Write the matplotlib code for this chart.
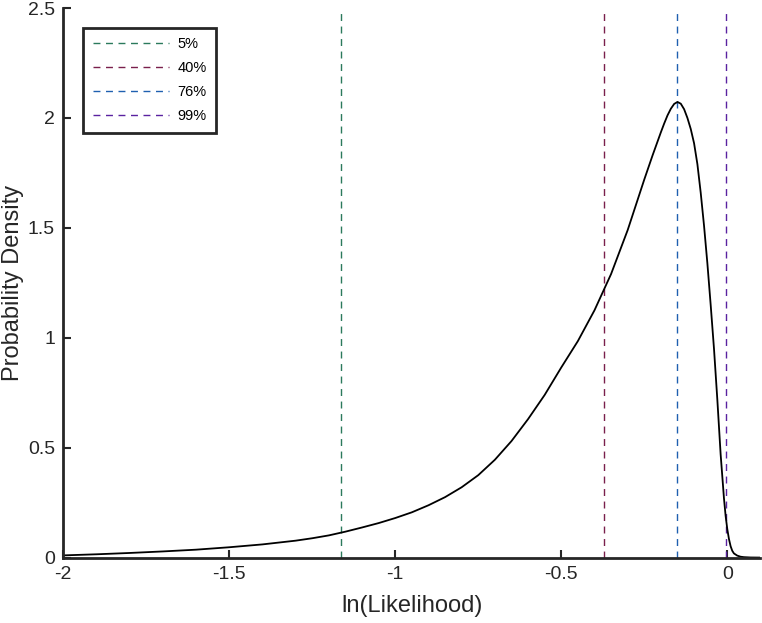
import numpy as np
import matplotlib
matplotlib.use('Agg')
import matplotlib.pyplot as plt

plt.rcParams['font.family'] = ['Liberation Sans', 'DejaVu Sans']

# density curve
lnL = [-2.0, -1.9, -1.8, -1.7, -1.6, -1.5, -1.4, -1.3, -1.25, -1.2,
       -1.15, -1.1, -1.05, -1.0, -0.95, -0.9, -0.85, -0.8, -0.75, -0.7,
       -0.65, -0.6, -0.55, -0.5, -0.45, -0.4, -0.35, -0.3, -0.275, -0.25,
       -0.225, -0.2, -0.19, -0.18, -0.17, -0.16, -0.15, -0.14, -0.13, -0.12,
       -0.11, -0.1, -0.09, -0.08, -0.07, -0.06, -0.05, -0.04, -0.03, -0.02,
       -0.01, -0.005, 0.0, 0.005, 0.01, 0.015, 0.02, 0.03, 0.04, 0.05,
       0.07, 0.1]
dens = [0.010, 0.015, 0.021, 0.028, 0.036, 0.047, 0.060, 0.077, 0.088, 0.101,
        0.118, 0.137, 0.157, 0.180, 0.206, 0.238, 0.275, 0.320, 0.375, 0.445,
        0.530, 0.630, 0.740, 0.865, 0.985, 1.125, 1.290, 1.490, 1.605, 1.720,
        1.830, 1.935, 1.975, 2.012, 2.042, 2.064, 2.073, 2.065, 2.040, 2.000,
        1.950, 1.885, 1.790, 1.660, 1.510, 1.340, 1.150, 0.950, 0.720, 0.470,
        0.270, 0.190, 0.130, 0.085, 0.052, 0.031, 0.019, 0.009, 0.004, 0.002,
        0.0005, 0.0]

# percentile markers
pct_labels = ['5%', '40%', '76%', '99%']
pct_values = [-1.163, -0.37, -0.152, -0.004]
pct_colors = ['#2b7a5c', '#7a1f4c', '#1f60b0', '#5a22a0']

fig = plt.figure(figsize=(7.62, 6.23), dpi=100)
ax = fig.add_axes([0.083, 0.105, 0.915, 0.882])

for lab, v, c in zip(pct_labels, pct_values, pct_colors):
    ax.axvline(v, color=c, linestyle=(0, (5, 4)), linewidth=1.0, label=lab)

ax.plot(lnL, dens, color='k', linewidth=1.3)

ax.set_xlim(-2, 0.1)
ax.set_ylim(0, 2.5)
ax.set_xticks([-2, -1.5, -1, -0.5, 0])
ax.set_xticklabels(['-2', '-1.5', '-1', '-0.5', '0'])
ax.set_yticks([0, 0.5, 1, 1.5, 2, 2.5])
ax.set_yticklabels(['0', '0.5', '1', '1.5', '2', '2.5'])

for s in ['top', 'right']:
    ax.spines[s].set_visible(False)
for s in ['left', 'bottom']:
    ax.spines[s].set_linewidth(2.0)
    ax.spines[s].set_color('#262626')

ax.tick_params(direction='in', length=6, width=1.5, color='#262626',
               labelsize=14, labelcolor='#262626', pad=6)
ax.set_xlabel('ln(Likelihood)', fontsize=17, color='#262626', labelpad=9)
ax.set_ylabel('Probability Density', fontsize=17, color='#262626')
ax.yaxis.set_label_coords(-0.057, 0.5)

leg = ax.legend(loc='upper left', bbox_to_anchor=(0.029, 0.964), fontsize=10.5,
                handlelength=5.2, handletextpad=0.6, labelspacing=0.68,
                borderpad=0.65, borderaxespad=0, fancybox=False, framealpha=1)
leg.get_frame().set_edgecolor('#262626')
leg.get_frame().set_linewidth(2.0)

fig.savefig('out.png', dpi=100)
